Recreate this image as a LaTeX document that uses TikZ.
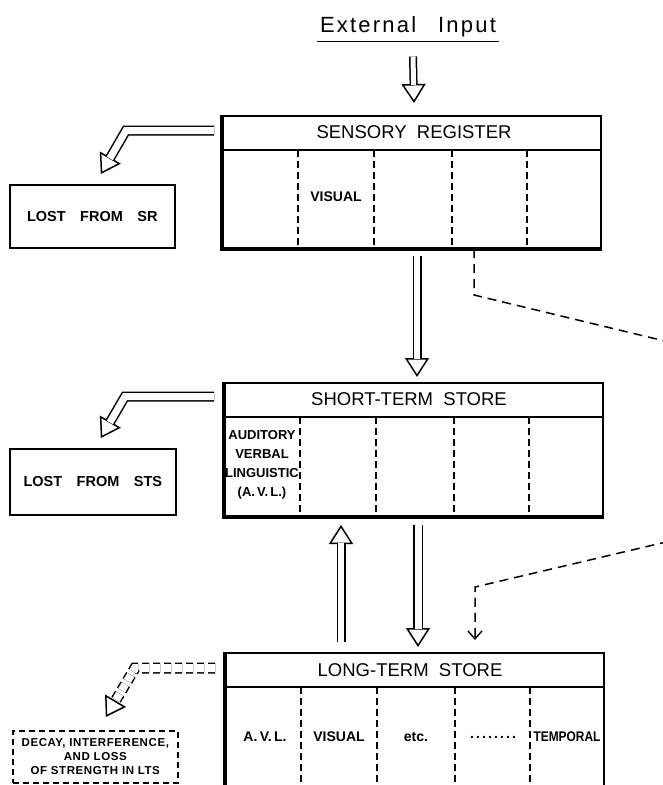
\documentclass[tikz,border=0pt]{standalone}
\usepackage{fontspec}
\setmainfont{Liberation Sans}
\usetikzlibrary{arrows.meta,calc}

\tikzset{
  store/.style={draw, line width=2pt, inner sep=0pt, anchor=north west, minimum width=378pt},
  lossbox/.style={draw, line width=1.6pt, inner sep=0pt, anchor=north west, align=center,
    font=\bfseries\fontsize{14.5}{16}\selectfont},
  storetitle/.style={font=\fontsize{18.5}{20}\selectfont, inner sep=0pt},
  cellnote/.style={font=\bfseries\fontsize{14}{16}\selectfont, inner sep=0pt, align=center},
  divider/.style={line width=1.4pt, dash pattern=on 7pt off 4pt},
  hollow/.style={double, double distance=6pt, line width=1.5pt},
  hollowtip/.style={line width=0.01pt, -{Triangle[open, length=19pt, width=24pt, line width=1.5pt]}},
  retrieval/.style={line width=1.5pt, dash pattern=on 9pt off 6pt,
    -{Straight Barb[length=8pt, width=14pt, line width=1.4pt]}}
}
% hollow block arrow: head first, then the two-line shaft on top
\newcommand{\blockarrow}[2][]{%
  \draw[hollowtip,#1] #2;
  \draw[hollow,shorten >=18pt,#1] #2;
}

\begin{document}
\begin{tikzpicture}[x=1pt,y=-1pt]
\useasboundingbox (0,0) rectangle (663,785);

% input
\node[font={\fontsize{22}{24}\selectfont\addfontfeatures{LetterSpace=10}}, inner xsep=3pt, inner ysep=4pt] (input) at (408,27) {External\quad Input};
\draw[line width=1.6pt] (input.south west) -- (input.south east);

% the three stores
\node[store, minimum height=132pt] (sr) at (222,115) {};
\node[store, minimum height=133pt] (sts) at (224,382) {};
\node[store, minimum height=140pt] (lts) at (225,652) {};
\foreach \s in {sr,sts,lts} {
  \draw[line width=3.2pt] (\s.north west) -- (\s.south west) -- (\s.south east);
  \draw[line width=2pt] ($(\s.north west)+(0,35)$) -- ($(\s.north east)+(0,35)$);
  \foreach \dx in {76,152,230,305}
    \draw[divider] ($(\s.north west)+(\dx,35)$) -- ($(\s.south west)+(\dx,0)$);
}
\node[storetitle] (srtitle) at ($(sr.north)+(2,17.5)$) {SENSORY\ \ REGISTER};
\node[storetitle] (ststitle) at ($(sts.north)+(-5,17.5)$) {SHORT-TERM\ \ STORE};
\node[storetitle] (ltstitle) at ($(lts.north)+(-5,18)$) {LONG-TERM\ \ STORE};

% contents of the stores
\node[cellnote] (srvisual) at ($(sr.north west)+(114,82)$) {VISUAL};
\node[cellnote, font=\bfseries\fontsize{13}{19}\selectfont] (stsavl) at ($(sts.north west)+(38,83)$) {AUDITORY\\VERBAL\\LINGUISTIC\\(A.\,V.\,L.)};
\node[cellnote] (ltsavl) at ($(lts.north west)+(40,85)$) {A.\,V.\,L.};
\node[cellnote] (ltsvisual) at ($(lts.north west)+(114,85)$) {VISUAL};
\node[cellnote] (ltsetc) at ($(lts.north west)+(191,85)$) {etc.};
\node[cellnote, font={\bfseries\fontsize{14}{16}\selectfont\addfontfeatures{LetterSpace=15}}] (ltsdots) at ($(lts.north west)+(268,85)$) {........};
\node[cellnote] (ltstemp) at ($(lts.north west)+(342,85)$) {\scalebox{0.85}[1]{TEMPORAL}};

% losses
\node[lossbox, minimum width=165pt, minimum height=63pt] (lostsr) at (9,184) {LOST\quad FROM\quad SR};
\node[lossbox, minimum width=166pt, minimum height=66pt] (loststs) at (9,448) {LOST\quad FROM\quad STS};
\node[lossbox, dash pattern=on 6pt off 4pt, minimum width=165pt, minimum height=52pt,
  font={\bfseries\fontsize{11.5}{14}\selectfont\addfontfeatures{LetterSpace=5}}] (decay) at (12,730)
  {DECAY, INTERFERENCE,\\AND LOSS\\OF STRENGTH IN LTS};

% transfers
\blockarrow[double distance=5pt]{($(input.south)+(5,15)$) -- ($(sr.north)+(2,-12)$)}
\blockarrow{($(sr.south)+(5,7)$) -- ($(sts.north)+(3,-5)$)}
\blockarrow{($(lts.north)+(-74,-10)$) -- ($(sts.south)+(-73,8)$)}
\blockarrow[double distance=7pt]{($(sts.south)+(4,8)$) -- ($(lts.north)+(3,-5)$)}
\blockarrow[double distance=7pt]{($(sr.north west)+(-8,15.5)$) -- ($(sr.north west)+(-96,15.5)$) -- ($(lostsr.north)+(8.5,-10)$)}
\blockarrow[double distance=7pt]{($(sts.north west)+(-10,14.5)$) -- ($(sts.north west)+(-99,14.5)$) -- ($(loststs.north)+(8,-10)$)}
\blockarrow[double distance=8pt, dash pattern=on 7pt off 4pt]{($(lts.north west)+(-10,16)$) -- ($(lts.north west)+(-90,16)$) -- ($(decay.north)+(10.5,-13)$)}

% sensory register straight to long-term store
\draw[retrieval] ($(sr.south west)+(252,0)$) -- ++(0,46) -- (700,349.5) -- (700,534)
  -- ($(lts.north west)+(250,-65)$) -- ($(lts.north west)+(250,-12)$);
\end{tikzpicture}
\end{document}
